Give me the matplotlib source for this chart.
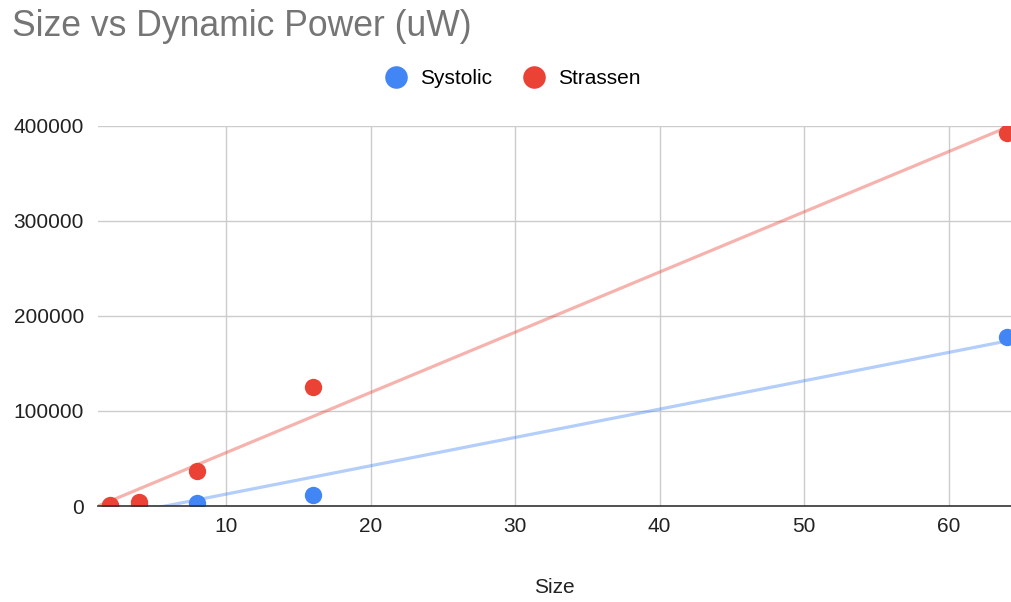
import matplotlib.pyplot as plt
import numpy as np

plt.rcParams['font.family'] = ['Liberation Sans', 'DejaVu Sans']

sizes = [2, 4, 8, 16, 64]
systolic = [200, 900, 3000, 11600, 178000]
strassen = [1000, 4000, 36800, 125000, 392600]

BLUE = '#4285f4'
RED = '#ea4335'

fig = plt.figure(figsize=(10.11, 6.02), dpi=100)
ax = fig.add_axes([98 / 1011, 96 / 602, 913 / 1011, 380 / 602])

x_line = np.linspace(1.0, 65, 200)
for ys, color in ((systolic, BLUE), (strassen, RED)):
    # linear trend line
    k, b = np.polyfit(sizes, ys, 1)
    ax.plot(x_line, k * x_line + b, color=color, alpha=0.4, lw=2.3, zorder=2)

for ys, color, name in ((systolic, BLUE, 'Systolic'), (strassen, RED, 'Strassen')):
    ax.plot(sizes, ys, 'o', color=color, ms=12.5, mec='none', label=name,
            zorder=4)

ax.set_xlim(1.15, 64.3)
ax.set_ylim(0, 400000)
ax.set_xticks([10, 20, 30, 40, 50, 60])
ax.set_yticks([0, 100000, 200000, 300000, 400000])
ax.yaxis.set_major_formatter(plt.FuncFormatter(lambda v, p: f'{int(v)}'))
ax.grid(True, color='#cccccc', lw=1)
ax.set_axisbelow(True)
for s in ('top', 'right', 'left'):
    ax.spines[s].set_visible(False)
ax.spines['bottom'].set_color('#333333')
ax.spines['bottom'].set_linewidth(1.2)
ax.spines['bottom'].set_zorder(5)
ax.tick_params(length=0, labelsize=15, colors='#222222')
ax.tick_params(axis='x', pad=8)
ax.tick_params(axis='y', pad=10)
ax.set_xlabel('Size', fontsize=15, color='#222222', labelpad=30)

fig.text(12 / 1011, 1 - 26 / 602, 'Size vs Dynamic Power (uW)', fontsize=25.6,
         color='#757575', va='center', ha='left')
fig.legend(loc='center', bbox_to_anchor=(513 / 1011, 1 - 79 / 602), ncol=2,
           frameon=False, fontsize=15, handletextpad=0.65, columnspacing=1.5,
           markerscale=1.3, handlelength=1.0)

fig.savefig('out.png', dpi=100)
